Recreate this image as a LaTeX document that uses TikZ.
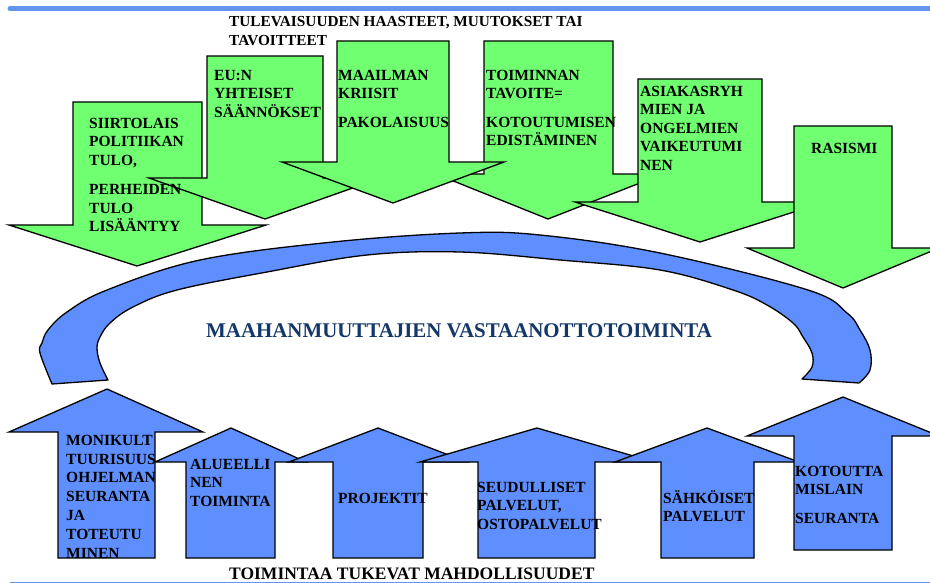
\documentclass[tikz,border=0pt]{standalone}
\usepackage{fontspec}
\setmainfont{Liberation Serif}
\definecolor{agreen}{RGB}{112,255,112}
\definecolor{ablue}{RGB}{95,143,255}
\definecolor{lblue}{RGB}{100,149,237}
\definecolor{navy}{RGB}{20,55,105}
\tikzset{
  garrow/.style={fill=agreen, draw=black, line width=1.3pt, line join=miter},
  barrow/.style={fill=ablue, draw=black, line width=1.3pt, line join=miter},
  lbl/.style={font=\fontsize{15.5}{18.5}\selectfont\bfseries, align=left, inner sep=0pt, anchor=north west, execute at begin node=\strut},
  lblb/.style={lbl, font=\fontsize{15.5}{18.8}\selectfont\bfseries},
}
% style, x1, x2, y-end, y-base, head-left, head-right, tip-x, tip-y
\newcommand\shaftarrow[9]{\draw[#1] (#2,#4) -- (#3,#4) -- (#3,#5) -- (#7,#5) -- (#8,#9) -- (#6,#5) -- (#2,#5) -- cycle;}
\begin{document}
\begin{tikzpicture}[x=1pt,y=-1pt]
\clip (0,0) rectangle (930,583);
\fill[white] (0,0) rectangle (930,583);
% top and bottom rules
\draw[lblue, line width=5pt, line cap=round] (10,8.5) -- (940,8.5);
\draw[lblue, line width=1pt] (10,582.5) -- (940,582.5);
% green arrows
\shaftarrow{garrow}{73}{202}{102}{225}{9}{266}{137}{266}
\shaftarrow{garrow}{207}{323}{56}{178}{149}{381}{265}{219}
\shaftarrow{garrow}{484}{613}{41}{174}{436}{663}{548}{219}
\shaftarrow{garrow}{337}{449}{41}{162}{282}{504}{393}{203}
\shaftarrow{garrow}{638}{762}{79}{202}{575}{825}{700}{242}
\shaftarrow{garrow}{794}{892}{126}{248}{747}{939}{843}{288}
% curved band
\draw[barrow, line join=round] plot[smooth, tension=0.6] coordinates {(52,384) (40,353) (42,343) (48,330) (67,312) (107,290) (200,260) (333,242) (460,233) (540,235) (660,253) (808,290) (847,313) (860,330) (870,350) (870,370) (859,383)}
  -- plot[smooth, tension=0.6] coordinates {(802,379) (812,367) (812,353) (803,337) (793,323) (767,305) (733,290) (660,270) (560,260) (460,252) (367,255) (267,272) (177,290) (133,307) (110,323) (100,337) (97,348) (100,363) (108,380)} -- cycle;
% blue arrows
\shaftarrow{barrow}{58}{155}{558}{432}{9}{203}{107}{389}
\shaftarrow{barrow}{186}{275}{558}{462}{155}{306}{231}{428}
\shaftarrow{barrow}{333}{423}{558}{462}{289}{467}{378}{428}
\shaftarrow{barrow}{478}{595}{558}{462}{420}{654}{537}{428}
\shaftarrow{barrow}{661}{754}{558}{462}{615}{799}{707}{428}
\shaftarrow{barrow}{794}{892}{550}{436}{747}{939}{843}{397}
% texts
\node[lbl, font=\fontsize{15.3}{18.8}\selectfont\bfseries] (title) at (229,16) {TULEVAISUUDEN HAASTEET, MUUTOKSET TAI\\TAVOITTEET};
\node[lbl] (g1) at (89,118) {SIIRTOLAIS\\POLITIIKAN\\TULO,\\[11pt]PERHEIDEN\\TULO\\LISÄÄNTYY};
\node[lbl] (g2) at (214,70) {EU:N\\YHTEISET\\SÄÄNNÖKSET};
\node[lbl] (g3) at (338,70) {MAAILMAN\\KRIISIT\\[10pt]PAKOLAISUUS};
\node[lbl] (g4) at (486,70) {TOIMINNAN\\TAVOITE=\\[10pt]KOTOUTUMISEN\\EDISTÄMINEN};
\node[lbl] (g5) at (640,86) {ASIAKASRYH\\MIEN JA\\ONGELMIEN\\VAIKEUTUMI\\NEN};
\node[lbl] (g6) at (811,140) {RASISMI};
\node[font=\fontsize{20.9}{24}\selectfont\bfseries, text=navy, inner sep=0pt, anchor=base west] (center) at (206,337) {MAAHANMUUTTAJIEN VASTAANOTTOTOIMINTA};
\node[lblb] (b1) at (66,434.8) {MONIKULT\\TUURISUUS\\OHJELMAN\\SEURANTA\\JA\\TOTEUTU\\MINEN};
\node[lbl] (b2) at (190,459) {ALUEELLI\\NEN\\TOIMINTA};
\node[lbl] (b3) at (338,490) {PROJEKTIT};
\node[lbl] (b4) at (477,482) {SEUDULLISET\\PALVELUT,\\OSTOPALVELUT};
\node[lbl] (b5) at (663,490) {SÄHKÖISET\\PALVELUT};
\node[lbl] (b6) at (795,466) {KOTOUTTA\\MISLAIN\\[10pt]SEURANTA};
\node[font=\fontsize{17.5}{20}\selectfont\bfseries, inner sep=0pt, anchor=base west] (bottom) at (229,579.5) {TOIMINTAA TUKEVAT MAHDOLLISUUDET};
\end{tikzpicture}
\end{document}
